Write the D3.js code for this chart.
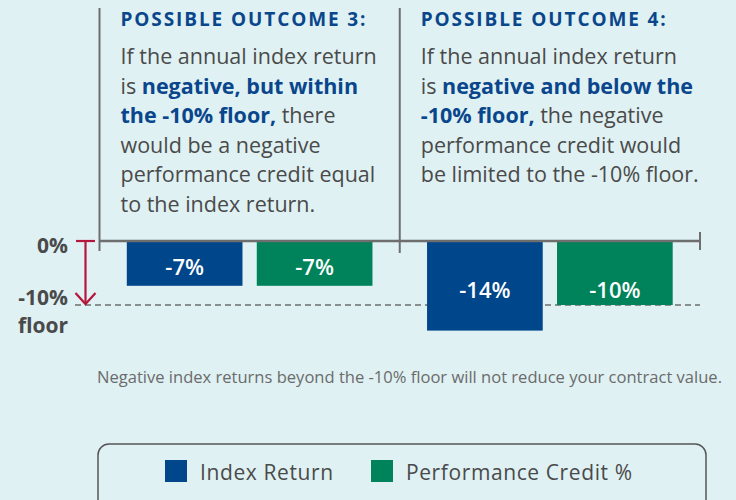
<!DOCTYPE html>
<html>
<head>
<meta charset="utf-8">
<script src="https://cdn.jsdelivr.net/npm/d3@7"></script>
<style>
  body { margin: 0; background: #dff1f3; }
  svg { display: block; font-family: "Open Sans", "DejaVu Sans", sans-serif; }
</style>
</head>
<body>
<div id="vis-container"></div>
<script>
let width_chart = 736;
let height_chart = 500;

// data
let outcomes = ["Outcome 3", "Outcome 4"];
let series = ["Index Return", "Performance Credit %"];
let index_return = [-7, -14];
let performance_credit = [-7, -10];
let floor_value = -10;
let series_colors = ["#00468b", "#00835a"];
let y_tick_labels = [[0, "0%"], [-10, "-10%"]];

let titles = ["POSSIBLE OUTCOME 3:", "POSSIBLE OUTCOME 4:"];
// each line is a list of [text, highlighted]
let body_lines = [
  [
    [["If the annual index return", false]],
    [["is ", false], ["negative, but within", true]],
    [["the -10% floor,", true], [" there", false]],
    [["would be a negative", false]],
    [["performance credit equal", false]],
    [["to the index return.", false]]
  ],
  [
    [["If the annual index return", false]],
    [["is ", false], ["negative and below the", true]],
    [["-10% floor,", true], [" the negative", false]],
    [["performance credit would", false]],
    [["be limited to the -10% floor.", false]]
  ]
];
let footnote = "Negative index returns beyond the -10% floor will not reduce your contract value.";

let ink = "#4a4a4a";
let navy = "#0a468c";
let rule = "#6e6e6e";
let red = "#b5173c";

let svg = d3.select("#vis-container").append("svg")
  .attr("width", width_chart)
  .attr("height", height_chart);

svg.append("rect")
  .attr("width", width_chart)
  .attr("height", height_chart)
  .attr("fill", "#dff1f3");

// scales
let x0 = d3.scaleBand().domain(outcomes).range([99.5, 700]);
let x1 = d3.scaleBand().domain(series).range([0, x0.bandwidth()])
  .paddingInner(0.11).paddingOuter(0.21);
let y = d3.scaleLinear().domain([0, floor_value]).range([241, 305]);

let table = outcomes.map((o, i) => ({
  outcome: o,
  values: [index_return[i], performance_credit[i]]
}));

// text panels
let panel = svg.selectAll("g.panel")
  .data(outcomes)
  .enter().append("g")
  .attr("class", "panel")
  .attr("transform", d => `translate(${x0(d) + 21},0)`);

panel.append("text")
  .attr("y", 26)
  .attr("fill", navy)
  .attr("font-size", 19)
  .attr("font-weight", 700)
  .style("letter-spacing", "1.9px")
  .text((d, i) => titles[i]);

panel.each(function(d, i) {
  let g = d3.select(this);
  body_lines[i].forEach((line, j) => {
    let t = g.append("text")
      .attr("y", 64 + j * 29.5)
      .attr("font-size", 21.5)
      .attr("fill", ink);
    line.forEach(seg => {
      t.append("tspan")
        .attr("fill", seg[1] ? navy : ink)
        .attr("font-weight", seg[1] ? 700 : 400)
        .text(seg[0]);
    });
  });
});

// dividers
svg.selectAll("line.divider")
  .data(outcomes)
  .enter().append("line")
  .attr("class", "divider")
  .attr("x1", d => x0(d))
  .attr("x2", d => x0(d))
  .attr("y1", 8)
  .attr("y2", (d, i) => i == 0 ? 251 : 253)
  .attr("stroke", rule)
  .attr("stroke-width", 2);

// floor line
svg.append("line")
  .attr("x1", 75).attr("x2", 700)
  .attr("y1", y(floor_value)).attr("y2", y(floor_value))
  .attr("stroke", rule)
  .attr("stroke-width", 1.6)
  .attr("stroke-dasharray", "6,4");

// bars
let groups = svg.selectAll("g.group")
  .data(table)
  .enter().append("g")
  .attr("class", "group")
  .attr("transform", d => `translate(${x0(d.outcome)},0)`);

groups.selectAll("rect")
  .data(d => d.values.map((v, k) => ({ key: series[k], value: v, k: k })))
  .enter().append("rect")
  .attr("x", d => x1(d.key))
  .attr("y", y(0))
  .attr("width", x1.bandwidth())
  .attr("height", d => y(d.value) - y(0))
  .attr("fill", d => series_colors[d.k]);

groups.selectAll("text.value")
  .data(d => {
    let low = d3.min(d.values);
    return d.values.map((v, k) => ({ key: series[k], value: v, low: low }));
  })
  .enter().append("text")
  .attr("class", "value")
  .attr("x", d => x1(d.key) + x1.bandwidth() / 2)
  .attr("y", d => y(d.low / 2) + 3)
  .attr("text-anchor", "middle")
  .attr("dominant-baseline", "central")
  .attr("fill", "#ffffff")
  .attr("font-size", 22)
  .attr("font-weight", 600)
  .text(d => d.value + "%");

// axis line at 0
svg.append("line")
  .attr("x1", 99.5).attr("x2", 700)
  .attr("y1", y(0)).attr("y2", y(0))
  .attr("stroke", rule)
  .attr("stroke-width", 2.5);
svg.append("line")
  .attr("x1", 700).attr("x2", 700)
  .attr("y1", 232).attr("y2", 250)
  .attr("stroke", rule)
  .attr("stroke-width", 2);

// y labels
svg.selectAll("text.ylab")
  .data(y_tick_labels)
  .enter().append("text")
  .attr("class", "ylab")
  .attr("x", 68)
  .attr("y", d => y(d[0]) + (d[0] == 0 ? 4 : -8))
  .attr("text-anchor", "end")
  .attr("dominant-baseline", "central")
  .attr("fill", ink)
  .attr("font-size", 21)
  .attr("font-weight", 700)
  .text(d => d[1]);
svg.append("text")
  .attr("x", 68)
  .attr("y", y(floor_value) + 20)
  .attr("text-anchor", "end")
  .attr("dominant-baseline", "central")
  .attr("fill", ink)
  .attr("font-size", 21)
  .attr("font-weight", 700)
  .text("floor");

// red floor arrow
let ax = 85.5;
svg.append("line")
  .attr("x1", 76).attr("x2", 95)
  .attr("y1", y(0)).attr("y2", y(0))
  .attr("stroke", red).attr("stroke-width", 2.2);
svg.append("line")
  .attr("x1", ax).attr("x2", ax)
  .attr("y1", y(0)).attr("y2", y(floor_value) - 1)
  .attr("stroke", red).attr("stroke-width", 2.2);
svg.append("path")
  .attr("d", `M${ax - 10},${y(floor_value) - 12} L${ax},${y(floor_value) - 1} L${ax + 10},${y(floor_value) - 12}`)
  .attr("fill", "none")
  .attr("stroke", red).attr("stroke-width", 2.2);

// footnote
svg.append("text")
  .attr("x", 97)
  .attr("y", 383)
  .attr("fill", "#6b6b6b")
  .attr("font-size", 16.5)
  .attr("textLength", 625)
  .attr("lengthAdjust", "spacingAndGlyphs")
  .text(footnote);

// legend
svg.append("rect")
  .attr("x", 98).attr("y", 444)
  .attr("width", 608).attr("height", 80)
  .attr("rx", 11)
  .attr("fill", "none")
  .attr("stroke", "#555555")
  .attr("stroke-width", 1.5);

let legend_x = [165, 371];
let legend = svg.selectAll("g.legend")
  .data(series)
  .enter().append("g")
  .attr("class", "legend")
  .attr("transform", (d, i) => `translate(${legend_x[i]},460)`);

legend.append("rect")
  .attr("width", 22).attr("height", 22)
  .style("fill", (d, i) => series_colors[i]);

legend.append("text")
  .attr("x", 35)
  .attr("y", 12)
  .attr("dominant-baseline", "central")
  .attr("fill", ink)
  .attr("font-size", 21)
  .attr("font-weight", 500)
  .style("letter-spacing", "0.6px")
  .text(d => d);
</script>
</body>
</html>
